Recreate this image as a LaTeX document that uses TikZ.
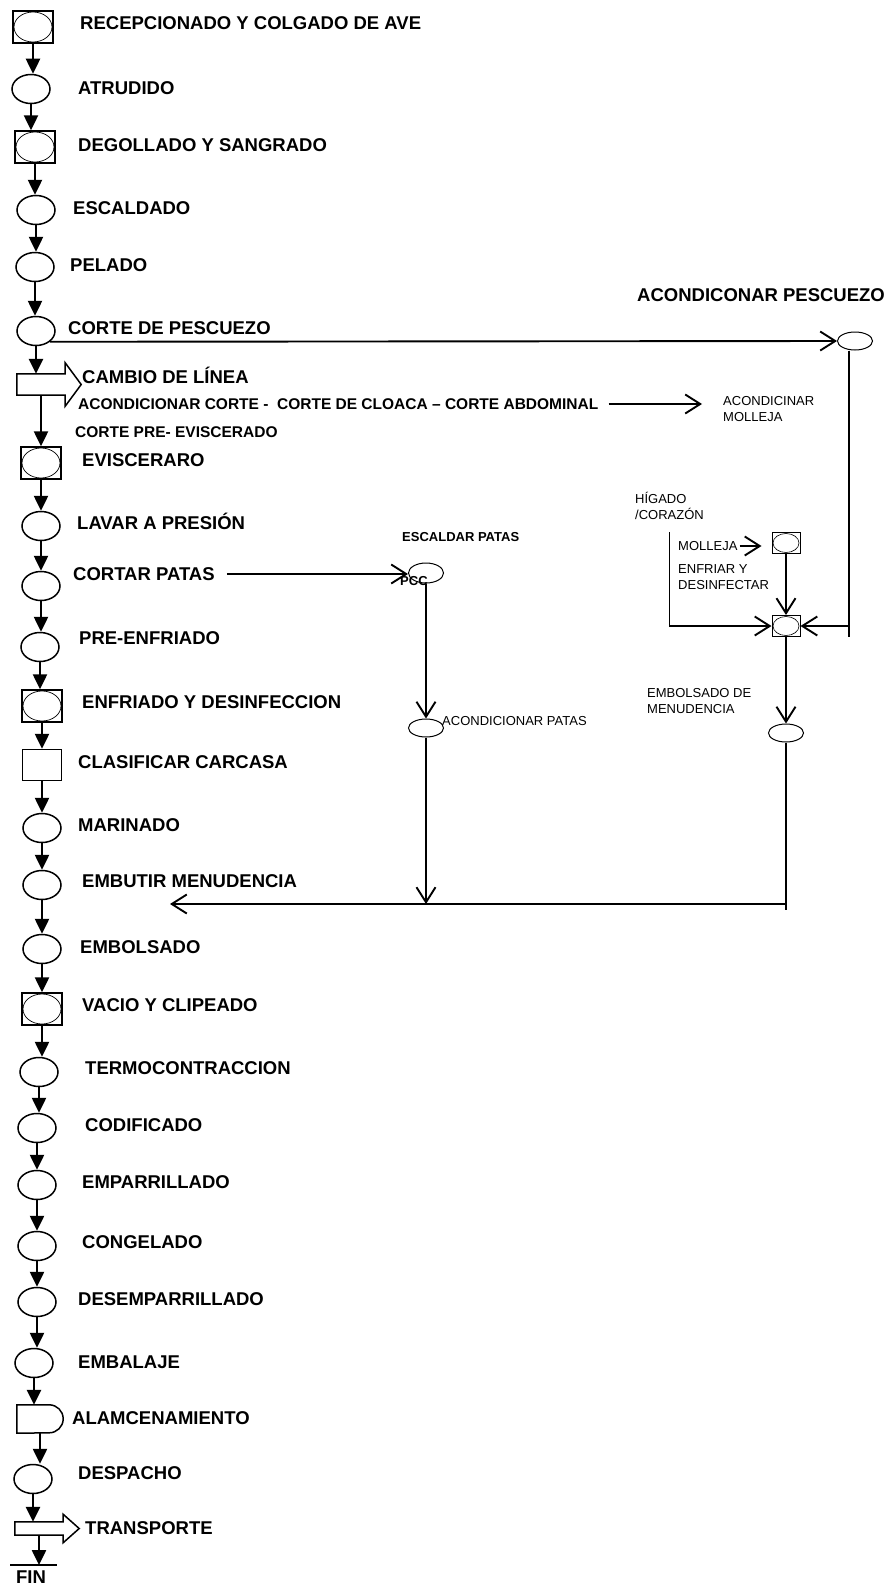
\documentclass[tikz,border=0pt]{standalone}
\usepackage{fontspec}
\setmainfont{Liberation Sans}
\usepackage{tikz}
\usetikzlibrary{
    arrows.meta,
    positioning,
    shapes.geometric,
    calc
}
\tikzset{
	op/.style={
		ellipse,
		draw, line width=1.5pt,
		minimum width=38pt,
		minimum height=29pt,
		inner sep=0pt
	},
	opbox/.style={
		rectangle,
		draw, line width=1.5pt,
		minimum width=40pt,
		minimum height=32pt,
		inner sep=0pt,
		path picture={\draw[line width=0.7pt] (path picture bounding box.center) ellipse [x radius=19pt, y radius=15pt];}
	},
	inspect/.style={
		rectangle,
		draw, line width=1.5pt,
		minimum width=39pt,
		minimum height=31pt
	},
}

\begin{document}
\begin{tikzpicture}[
    x=1pt, y=-1pt,
    shaft/.style={rectangle, inner sep=0pt, minimum width=48pt},
    outline/.style={draw, line width=1.5pt, line join=miter},
    subop/.style={ellipse, draw, line width=1pt, minimum width=35pt, minimum height=18pt, inner sep=0pt},
    minibox/.style={
        rectangle, draw, line width=1pt,
        minimum width=28pt, minimum height=21pt, inner sep=0pt,
        path picture={\draw[line width=0.6pt] (path picture bounding box.center) ellipse [x radius=13pt, y radius=9.5pt];}
    },
    lab/.style={anchor=west, inner sep=0pt, font=\fontsize{18.5}{22}\selectfont\bfseries, text height=13.3pt, text depth=0pt},
    sublab/.style={anchor=west, inner sep=0pt, font=\fontsize{15.5}{19}\selectfont\bfseries, text height=11.1pt, text depth=0pt},
    smallbold/.style={anchor=west, inner sep=0pt, font=\fontsize{13}{16}\selectfont\bfseries, text height=9.3pt, text depth=0pt},
    note/.style={anchor=west, inner sep=0pt, align=left, font=\fontsize{13}{16.5}\selectfont},
    flow/.style={draw, line width=2.5pt, -{Triangle[length=15pt, width=14pt]}},
    link/.style={draw, line width=1.9pt},
    barb/.style={draw, line width=1.9pt, -{Straight Barb[length=15pt, width=19pt]}}
]
\useasboundingbox (0,0) rectangle (889,1587);

% main line
\node[opbox] (recep) at (33,27) {};
\node[op] (atrud) at (31,89) {};
\node[opbox] (degoll) at (35,147) {};
\node[op] (escald) at (36,210) {};
\node[op] (pelado) at (35,267) {};
\node[op] (pesc) at (36,331) {};
\node[shaft, minimum height=21pt] (cambio) at (41,384.5) {};
\node[opbox] (evisc) at (41,463) {};
\node[op] (lavar) at (41,526) {};
\node[op] (cortp) at (41,586) {};
\node[op] (prenf) at (40,647) {};
\node[opbox] (enfri) at (42,706) {};
\node[inspect] (clasif) at (42,765) {};
\node[op] (marin) at (42,828) {};
\node[op] (embut) at (42,885) {};
\node[op] (embol) at (42,949) {};
\node[opbox] (vacio) at (42,1009) {};
\node[op] (termo) at (39,1072) {};
\node[op] (codif) at (37,1128) {};
\node[op] (empar) at (37,1185) {};
\node[op] (conge) at (37,1246) {};
\node[op] (desem) at (37,1302) {};
\node[op] (embal) at (34,1363) {};
\node[shaft, minimum width=46pt, minimum height=28pt] (almac) at (40,1419) {};
\node[op] (despa) at (33,1479) {};
\node[shaft, minimum height=13pt] (transp) at (39,1528.5) {};
\coordinate (finbar) at (33,1565);

% block arrows and storage
\draw[outline] (cambio.north west) -- (cambio.north east) -- ([yshift=11pt]cambio.north east)
    -- ([xshift=16pt]cambio.east) -- ([yshift=-11pt]cambio.south east) -- (cambio.south east)
    -- (cambio.south west) -- cycle;
\draw[outline] (transp.north west) -- (transp.north east) -- ([yshift=7.5pt]transp.north east)
    -- ([xshift=16pt]transp.east) -- ([yshift=-7.5pt]transp.south east) -- (transp.south east)
    -- (transp.south west) -- cycle;
\draw[outline] (almac.north west) -- ([xshift=-14pt]almac.north east)
    arc[start angle=90, end angle=-90, radius=14pt] -- (almac.south west) -- cycle;

% labels
\node[lab] (lrecep) at (80,23) {RECEPCIONADO Y COLGADO DE AVE};
\node[lab] (latrud) at (78,88) {ATRUDIDO};
\node[lab] (ldegoll) at (78,145) {DEGOLLADO Y SANGRADO};
\node[lab] (lescald) at (73,208) {ESCALDADO};
\node[lab] (lpelado) at (70,265) {PELADO};
\node[lab] (lpesc) at (68,328) {CORTE DE PESCUEZO};
\node[lab] (lcambio) at (82,377) {CAMBIO DE LÍNEA};
\node[sublab] (lacorte) at (78,404) {ACONDICIONAR CORTE -~~CORTE DE CLOACA – CORTE ABDOMINAL};
\node[sublab] (lcpre) at (75,432) {CORTE PRE- EVISCERADO};
\node[lab] (levisc) at (82,460) {EVISCERARO};
\node[lab] (llavar) at (77,523) {LAVAR A PRESIÓN};
\node[lab] (lcortp) at (73,574) {CORTAR PATAS};
\node[lab] (lprenf) at (79,638) {PRE-ENFRIADO};
\node[lab] (lenfri) at (82,702) {ENFRIADO Y DESINFECCION};
\node[lab] (lclasif) at (78,762) {CLASIFICAR CARCASA};
\node[lab] (lmarin) at (78,825) {MARINADO};
\node[lab] (lembut) at (82,881) {EMBUTIR MENUDENCIA};
\node[lab] (lembol) at (80,947) {EMBOLSADO};
\node[lab] (lvacio) at (82,1005) {VACIO Y CLIPEADO};
\node[lab] (ltermo) at (85,1068) {TERMOCONTRACCION};
\node[lab] (lcodif) at (85,1125) {CODIFICADO};
\node[lab] (lempar) at (82,1182) {EMPARRILLADO};
\node[lab] (lconge) at (82,1242) {CONGELADO};
\node[lab] (ldesem) at (78,1299) {DESEMPARRILLADO};
\node[lab] (lembal) at (78,1362) {EMBALAJE};
\node[lab] (lalmac) at (72,1418) {ALAMCENAMIENTO};
\node[lab] (ldespa) at (78,1473) {DESPACHO};
\node[lab] (ltransp) at (85,1528) {TRANSPORTE};
\node[lab, anchor=center] (fin) at (31,1577) {FIN};

% side lines
\node[subop] (acpes) at (855,341) {};
\node[lab] (lacpes) at (637,295) {ACONDICONAR PESCUEZO};
\node[note] (acmol) at (723,409) {ACONDICINAR\\MOLLEJA};
\node[note] (lhig) at (635,506) {HÍGADO\\/CORAZÓN};
\node[note] (lmol) at (678,546) {MOLLEJA};
\node[minibox] (molbox) at (786,543) {};
\node[note] (lenfd) at (678,577) {ENFRIAR Y\\DESINFECTAR};
\node[minibox] (mix) at (786,626) {};
\node[note] (lembm) at (647,701) {EMBOLSADO DE\\MENUDENCIA};
\node[subop] (embm) at (786,733) {};
\node[smallbold] (lescp) at (402,537) {ESCALDAR PATAS};
\node[subop, minimum height=20pt] (escp) at (426,573) {};
\node[subop] (acpat) at (426,728) {};
\node[note] (lacpat) at (442,721) {ACONDICIONAR PATAS};
\coordinate (menin) at (170,904);
\coordinate (pesdown) at ([xshift=-6pt]acpes.south);

% main flow
\draw[flow] (recep.south) -- (recep.south |- atrud.north);
\draw[flow] (atrud.south) -- (atrud.south |- degoll.north);
\draw[flow] (degoll.south) -- (degoll.south |- escald.north);
\draw[flow] (escald.south) -- (escald.south |- pelado.north);
\draw[flow] (pelado.south) -- (pelado.south |- pesc.north);
\draw[flow] (pesc.south) -- (pesc.south |- cambio.north);
\draw[flow] (cambio.south) -- (cambio.south |- evisc.north);
\draw[flow] (evisc.south) -- (evisc.south |- lavar.north);
\draw[flow] (lavar.south) -- (lavar.south |- cortp.north);
\draw[flow] (cortp.south) -- (cortp.south |- prenf.north);
\draw[flow] (prenf.south) -- (prenf.south |- enfri.north);
\draw[flow] (enfri.south) -- (enfri.south |- clasif.north);
\draw[flow] (clasif.south) -- (clasif.south |- marin.north);
\draw[flow] (marin.south) -- (marin.south |- embut.north);
\draw[flow] (embut.south) -- (embut.south |- embol.north);
\draw[flow] (embol.south) -- (embol.south |- vacio.north);
\draw[flow] (vacio.south) -- (vacio.south |- termo.north);
\draw[flow] (termo.south) -- (termo.south |- codif.north);
\draw[flow] (codif.south) -- (codif.south |- empar.north);
\draw[flow] (empar.south) -- (empar.south |- conge.north);
\draw[flow] (conge.south) -- (conge.south |- desem.north);
\draw[flow] (desem.south) -- (desem.south |- embal.north);
\draw[flow] (embal.south) -- (embal.south |- almac.north);
\draw[flow] (almac.south) -- (almac.south |- despa.north);
\draw[flow] (despa.south) -- (despa.south |- transp.north);
\draw[flow] (transp.south) -- (transp.south |- finbar);
\draw[link] ($(finbar)+(-23,0)$) -- ($(finbar)+(24,0)$);

% branches
\draw[barb] (pesc.south east) -- (acpes.west);
\draw[link] (pesdown) -- ($(pesdown |- mix.east)+(0,11)$);
\draw[barb] (pesdown |- mix.east) -- (mix.east);
\draw[barb, shorten <=10pt, shorten >=21pt] (lacorte.east) -- (lacorte.east -| acmol.west);
\draw[barb, shorten <=12pt] (lhig.south) |- (mix.west);
\draw[barb, shorten <=2pt, shorten >=10pt] (lmol.east) -- (lmol.east -| molbox.west);
\draw[barb] (molbox) -- (mix);
\draw[barb] (mix) -- (embm);
\draw[link] (embm.south) -- ($(embm.south |- menin)+(0,6)$);
\draw[barb] (embm.south |- menin) -- (menin);
\draw[barb, shorten <=12pt] (lcortp.east) -- (lcortp.east -| escp.west);
\draw[barb] (escp) -- (acpat);
\draw[barb] (acpat.south) -- (acpat.south |- menin);
\node[smallbold] (pcc) at (400,581) {PCC};

\end{tikzpicture}
\end{document}
